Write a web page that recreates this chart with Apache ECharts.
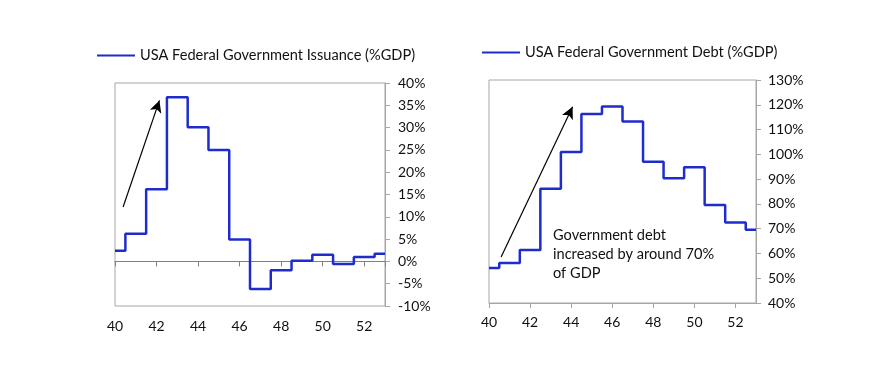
<!DOCTYPE html>
<html>
<head>
<meta charset="utf-8">
<script src="https://cdn.jsdelivr.net/npm/echarts@6/dist/echarts.min.js"></script>
<style>html,body{margin:0;padding:0;background:#fff}#c{width:877px;height:379px}</style>
</head>
<body>
<div id="c"></div>
<script>
// Data
const years = [40,41,42,43,44,45,46,47,48,49,50,51,52,53];
const issuance = [2.4,6.2,16.2,36.8,30.1,25.0,4.9,-6.2,-2.0,0.15,1.5,-0.6,1.0,1.7];
const debt = [54.1,56.1,61.4,86.1,100.9,116.3,119.3,113.3,97.0,90.3,94.8,79.6,72.5,69.6];
const issuanceName = 'USA Federal Government Issuance (%GDP)';
const debtName = 'USA Federal Government Debt (%GDP)';
const leftTicks = {min:-10, max:40, interval:5};
const rightTicks = {min:40, max:130, interval:10};
const xRange = {min:40, max:53, interval:2};
const annotation = 'Government debt\nincreased by around 70%\nof GDP';
const leftArrow = [[40.39,12.2],[42.14,36.1]];
const rightArrow = [[40.59,58.6],[44.07,119.2]];

const FONT = 'Lato, "Open Sans", sans-serif';
const BLUE = '#1f2ccc';
const GRID_GRAY = '#a6a6a6';
const TXT = '#111';

const pair = (xs, ys) => xs.map((x,i)=>[x, ys[i]]);

const chart = echarts.init(document.getElementById('c'));
chart.setOption({
  backgroundColor:'#fff',
  animation:false,
  textStyle:{fontFamily:FONT},
  legend:[
    {data:[issuanceName], left:97, top:48, padding:0, icon:'rect', itemWidth:38, itemHeight:2, itemGap:5,
     textStyle:{fontFamily:FONT, fontSize:14.6, color:TXT}},
    {data:[debtName], left:482, top:45, padding:0, icon:'rect', itemWidth:38, itemHeight:2, itemGap:5,
     textStyle:{fontFamily:FONT, fontSize:14.6, color:TXT}}
  ],
  grid:[
    {left:115, right:492, top:83, bottom:73, show:true, borderColor:GRID_GRAY, borderWidth:1, containLabel:false},
    {left:489, right:121, top:80, bottom:76, show:true, borderColor:GRID_GRAY, borderWidth:1, containLabel:false}
  ],
  xAxis:[
    {type:'value', gridIndex:0, min:xRange.min, max:xRange.max, interval:xRange.interval, position:'bottom',
     axisLine:{show:false, onZero:false}, axisTick:{show:false}, splitLine:{show:false},
     axisLabel:{margin:13, fontSize:14, color:TXT, fontFamily:FONT, showMaxLabel:false,
       formatter:v=> (v-xRange.min)%xRange.interval===0 ? String(v) : ''}},
    {type:'value', gridIndex:0, min:xRange.min, max:xRange.max, interval:xRange.interval, position:'bottom',
     axisLine:{show:true, onZero:true, lineStyle:{color:'#808080', width:1}},
     axisTick:{show:true, length:5, lineStyle:{color:'#808080'}}, axisLabel:{show:false}, splitLine:{show:false}},
    {type:'value', gridIndex:1, min:xRange.min, max:xRange.max, interval:xRange.interval, position:'bottom',
     axisLine:{show:true, onZero:false, lineStyle:{color:GRID_GRAY}},
     axisTick:{show:true, length:5, lineStyle:{color:GRID_GRAY}}, splitLine:{show:false},
     axisLabel:{margin:12, fontSize:14, color:TXT, fontFamily:FONT, showMaxLabel:false,
       formatter:v=> (v-xRange.min)%xRange.interval===0 ? String(v) : ''}}
  ],
  yAxis:[
    {type:'value', gridIndex:0, position:'right', min:leftTicks.min, max:leftTicks.max, interval:leftTicks.interval,
     axisLine:{show:true, lineStyle:{color:GRID_GRAY}}, axisTick:{show:true, length:5, lineStyle:{color:GRID_GRAY}},
     splitLine:{show:false}, axisLabel:{margin:13, fontSize:14, color:TXT, fontFamily:FONT, formatter:'{value}%'}},
    {type:'value', gridIndex:1, position:'right', min:rightTicks.min, max:rightTicks.max, interval:rightTicks.interval,
     axisLine:{show:true, lineStyle:{color:GRID_GRAY}}, axisTick:{show:true, length:5, lineStyle:{color:GRID_GRAY}},
     splitLine:{show:false}, axisLabel:{margin:12, fontSize:14, color:TXT, fontFamily:FONT, formatter:'{value}%'}}
  ],
  series:[
    {name:issuanceName, type:'line', xAxisIndex:0, yAxisIndex:0, step:'middle', showSymbol:false, symbol:'none',
     lineStyle:{color:BLUE, width:2.5}, itemStyle:{color:BLUE}, data:pair(years, issuance),
     markLine:{silent:true, symbol:['none','arrow'], symbolSize:[9,12], label:{show:false},
       lineStyle:{color:'#000', width:1.2, type:'solid'},
       data:[[{coord:leftArrow[0]},{coord:leftArrow[1]}]]}},
    {name:debtName, type:'line', xAxisIndex:2, yAxisIndex:1, step:'middle', showSymbol:false, symbol:'none',
     lineStyle:{color:BLUE, width:2.5}, itemStyle:{color:BLUE}, data:pair(years, debt),
     markLine:{silent:true, symbol:['none','arrow'], symbolSize:[9,12], label:{show:false},
       lineStyle:{color:'#000', width:1.2, type:'solid'},
       data:[[{coord:rightArrow[0]},{coord:rightArrow[1]}]]}}
  ],
  graphic:[
    {type:'text', left:553, top:226, style:{text:annotation, fontFamily:FONT, fontSize:14.6, lineHeight:19, fill:TXT}}
  ]
});
</script>
</body>
</html>
